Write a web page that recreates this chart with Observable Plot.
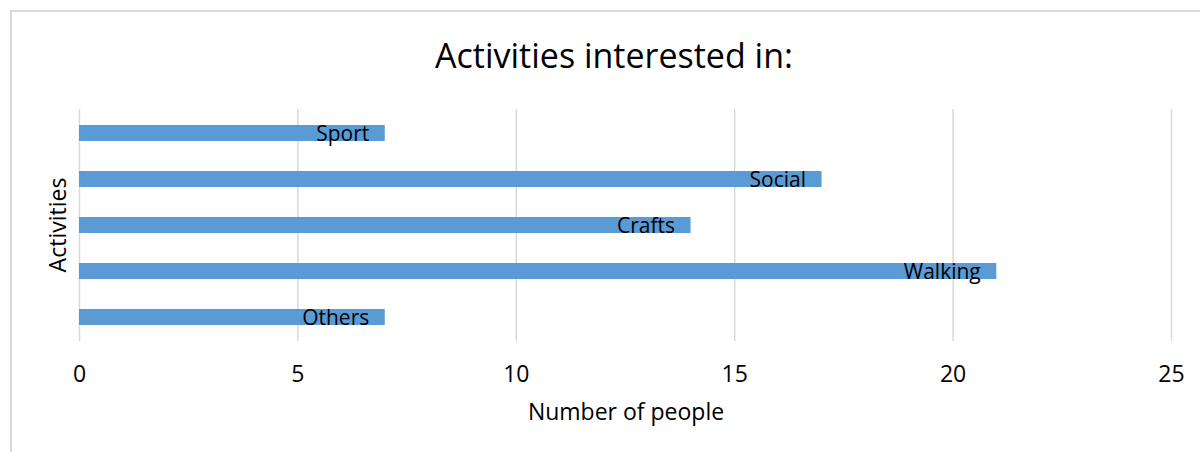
<!DOCTYPE html>
<html>
<head>
<meta charset="utf-8">
<script src="https://cdn.jsdelivr.net/npm/d3@7"></script>
<script src="https://cdn.jsdelivr.net/npm/@observablehq/plot@0.6"></script>
<style>
  html, body { margin: 0; padding: 0; background: #fff; }
  #wrap { position: relative; width: 1200px; height: 452px; overflow: hidden; }
  #border { position: absolute; left: 10px; top: 10px; width: 1300px; height: 600px;
            border-left: 2px solid #d9d9d9; border-top: 2px solid #d9d9d9; box-sizing: border-box; }
  svg { position: absolute; left: 0; top: 0; }
</style>
</head>
<body>
<div id="wrap"><div id="border"></div></div>
<script>
const categories = ["Sport", "Social", "Crafts", "Walking", "Others"];
const values = [7, 17, 14, 21, 7];
const xTicks = [0, 5, 10, 15, 20, 25];
const titleText = "Activities interested in:";
const xLabel = "Number of people";
const yLabel = "Activities";

const data = categories.map((c, i) => ({ category: c, value: values[i] }));
const font = "'Open Sans', sans-serif";

const chart = Plot.plot({
  width: 1200,
  height: 452,
  marginLeft: 79,
  marginRight: 29,
  marginTop: 109,
  marginBottom: 111,
  style: { fontFamily: font, background: "transparent", color: "#000" },
  x: { domain: [0, 25], ticks: xTicks },
  y: { domain: categories, paddingInner: 0.655, paddingOuter: 0.3275, axis: null },
  marks: [
    Plot.gridX(xTicks, { stroke: "#d9d9d9", strokeOpacity: 1, strokeWidth: 1.5 }),
    Plot.barX(data, { x: "value", y: "category", fill: "#5b9bd5" }),
    Plot.text(data, { x: "value", y: "category", text: "category", textAnchor: "end",
      dx: -16, dy: 1, fontSize: 21, fill: "#000" }),
    Plot.axisX(xTicks, { tickSize: 0, tickPadding: 24, fontSize: 23, label: null, fill: "#000" })
  ]
});

const svg = d3.select(chart);
svg.append("text").attr("x", 614).attr("y", 68).attr("text-anchor", "middle")
  .style("font-family", font).style("font-size", "34px").attr("fill", "#000").text(titleText);
svg.append("text").attr("x", 626).attr("y", 420).attr("text-anchor", "middle")
  .style("font-family", font).style("font-size", "23px").attr("fill", "#000").text(xLabel);
svg.append("text").attr("transform", "translate(66,225) rotate(-90)").attr("text-anchor", "middle")
  .style("font-family", font).style("font-size", "23px").attr("fill", "#000").text(yLabel);

document.getElementById("wrap").appendChild(chart);
</script>
</body>
</html>
